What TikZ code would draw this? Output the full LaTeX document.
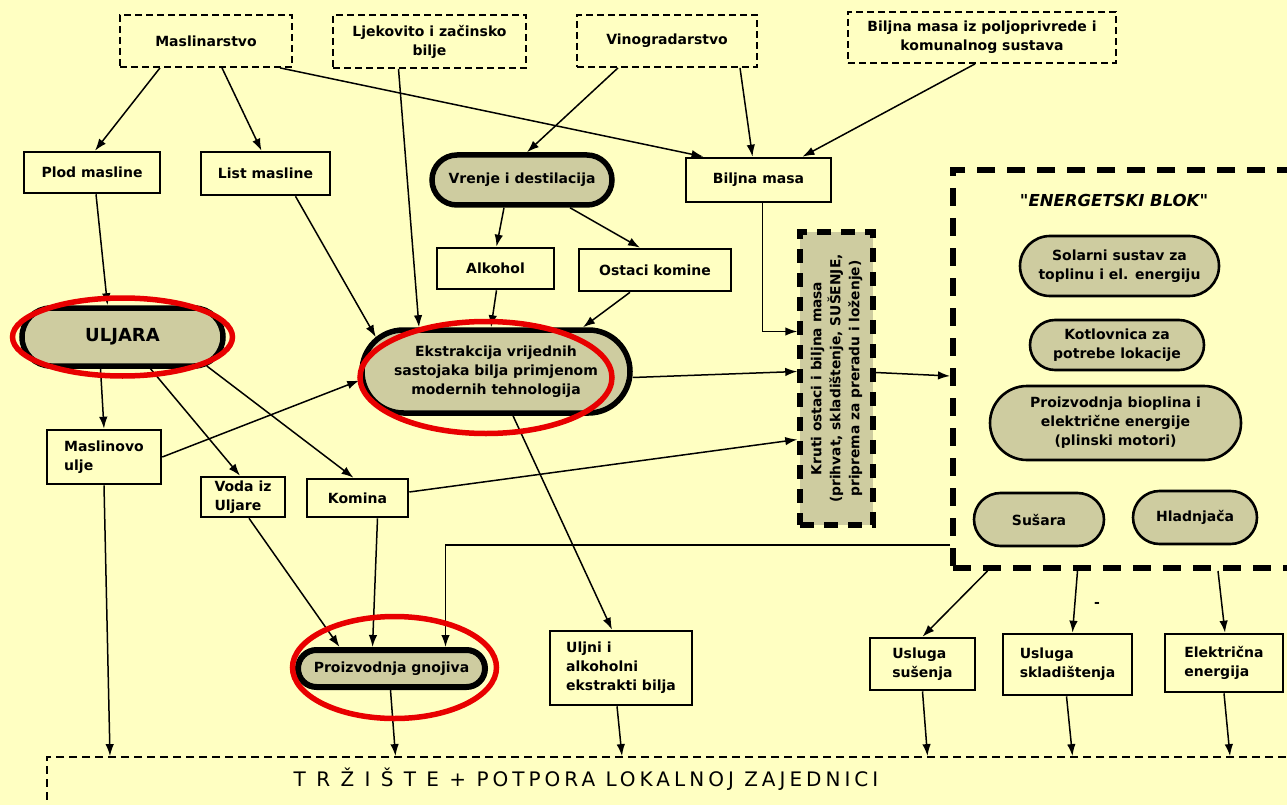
\documentclass[tikz,border=0pt]{standalone}
\usepackage{fontspec}
\setmainfont{DejaVu Sans}
\newfontfamily\marketfont[LetterSpace=20]{DejaVu Sans}
\usepackage{graphicx}
\usetikzlibrary{shapes.misc, arrows.meta, calc}

\definecolor{paper}{RGB}{255,255,194}
\definecolor{khaki}{RGB}{206,204,160}
\definecolor{ringred}{RGB}{232,0,0}

\begin{document}
\begin{tikzpicture}[x=1pt, y=-1pt,
        every node/.style={font=\fontsize{14}{19}\selectfont\bfseries, inner sep=2pt},
        source/.style={draw, line width=1.8pt, dash pattern=on 7pt off 4pt, align=center},
        item/.style={draw, line width=2.6pt, align=center},
        itemleft/.style={item, align=left},
        process/.style={rounded rectangle, draw, line width=5.5pt, fill=khaki, align=center},
        unit/.style={rounded rectangle, draw, line width=2.6pt, fill=khaki, align=center},
        flow/.style={line width=1.5pt, -{Latex[length=12pt, width=8.5pt]}},
        ring/.style={draw=ringred, line width=5.5pt},
        ]

    \useasboundingbox (0, 0) rectangle (1287, 805);
    \fill [paper] (0, 0) rectangle (1287, 805);

    % energetski blok and market frame
    \node (energ) at (1126.5, 369) [draw, line width=6pt, dash pattern=on 18pt off 12pt, minimum width=347pt, minimum height=398pt] {};
    \node (title) at (1114, 200) [font=\fontsize{16.5}{19}\selectfont\bfseries\itshape] {\textquotedbl ENERGETSKI BLOK\textquotedbl};
    \node (trziste) at (673.5, 793) [draw, line width=1.8pt, dash pattern=on 8pt off 5pt, minimum width=1253pt, minimum height=72pt] {};
    \node (market) at (586, 779) [font=\marketfont\fontsize{20}{22}\selectfont] {T R Ž I Š T E + POTPORA LOKALNOJ ZAJEDNICI};

    % sources
    \node (masl) at (206, 41) [source, minimum width=172pt, minimum height=52pt] {Maslinarstvo};
    \node (ljek) at (429.5, 41.5) [source, minimum width=193pt, minimum height=53pt] {Ljekovito i začinsko\\bilje};
    \node (vino) at (667, 41) [source, minimum width=180pt, minimum height=52pt] {Vinogradarstvo};
    \node (bpk) at (982, 37.5) [source, minimum width=268pt, minimum height=51pt] {Biljna masa iz poljoprivrede i\\komunalnog sustava};

    \node (plod) at (92, 172.5) [item, minimum width=136pt, minimum height=41pt] {Plod masline};
    \node (listm) at (265.5, 173.5) [item, minimum width=129pt, minimum height=43pt] {List masline};
    \node (vrenje) at (522, 180) [process, minimum width=184pt, minimum height=50pt] {Vrenje i destilacija};
    \node (biljna) at (758.5, 180) [item, minimum width=145pt, minimum height=44pt] {Biljna masa};

    \node (alkohol) at (495.5, 268.5) [item, minimum width=117pt, minimum height=41pt] {Alkohol};
    \node (ostaci) at (655, 270) [item, minimum width=152pt, minimum height=42pt] {Ostaci komine};

    \node (uljara) at (122.5, 337) [process, minimum width=205pt, minimum height=58pt, font=\fontsize{18}{19}\selectfont\bfseries] {ULJARA};
    \node (ekstr) at (496, 371.5) [process, minimum width=272pt, minimum height=83pt] {Ekstrakcija vrijednih\\sastojaka bilja primjenom\\modernih tehnologija};
    \node (kruti) at (836.5, 378.5) [draw, line width=5.5pt, dash pattern=on 14pt off 10pt, fill=khaki, minimum width=73pt, minimum height=293pt, inner sep=0pt, font=\fontsize{13.8}{19}\selectfont\bfseries] {\rotatebox{90}{\begin{tabular}{@{}c@{}}Kruti ostaci i biljna masa\\(prihvat, skladištenje, SUŠENJE,\\priprema za preradu i loženje)\end{tabular}}};

    % inside the energetski blok
    \node (solar) at (1119.5, 266) [unit, minimum width=203pt, minimum height=60pt] {Solarni sustav za\\toplinu i el. energiju};
    \node (kotl) at (1117, 345) [unit, minimum width=178pt, minimum height=50pt] {Kotlovnica za\\potrebe lokacije};
    \node (bioplin) at (1115.5, 423) [unit, minimum width=255pt, minimum height=74pt] {Proizvodnja bioplina i\\električne energije\\(plinski motori)};
    \node (susara) at (1039, 519.5) [unit, minimum width=134pt, minimum height=53pt] {Sušara};
    \node (hladn) at (1195, 517.5) [unit, minimum width=128pt, minimum height=53pt] {Hladnjača};

    \node (maslinovo) at (104, 457) [itemleft, minimum width=114pt, minimum height=54pt] {Maslinovo\\ulje};
    \node (voda) at (243, 497) [itemleft, minimum width=84pt, minimum height=40pt] {Voda iz\\Uljare};
    \node (komina) at (357.5, 498) [item, minimum width=101pt, minimum height=38pt] {Komina};

    \node (gnojiva) at (391.5, 668.5) [process, line width=6pt, minimum width=191pt, minimum height=37pt] {Proizvodnja gnojiva};
    \node (uljni) at (621, 668) [itemleft, minimum width=142pt, minimum height=74pt] {Uljni i\\alkoholni\\ekstrakti bilja};
    \node (usus) at (922.5, 664) [itemleft, minimum width=105pt, minimum height=52pt] {Usluga\\sušenja};
    \node (uskl) at (1067.5, 664.5) [itemleft, minimum width=129pt, minimum height=61pt] {Usluga\\skladištenja};
    \node (elen) at (1224, 663) [itemleft, minimum width=118pt, minimum height=58pt] {Električna\\energija};
    \node (tick) at (1097, 605) {-};

    % flows
    \draw [flow] ([xshift=-46pt]masl.south) -- ([xshift=3pt]plod.north);
    \draw [flow] ([xshift=16pt]masl.south) -- ([xshift=-4pt]listm.north);
    \draw [flow] ([xshift=74pt]masl.south) -- ([xshift=-55pt]biljna.north);
    \draw [flow] ([xshift=-31pt]ljek.south) -- ([xshift=-77pt]ekstr.north);
    \draw [flow] ([xshift=-49pt]vino.south) -- ([xshift=5pt]vrenje.north);
    \draw [flow] ([xshift=73pt]vino.south) -- ([xshift=-6pt]biljna.north);
    \draw [flow] ([xshift=-7pt]bpk.south) -- ([xshift=44pt]biljna.north);

    \draw [flow] ([xshift=4pt]plod.south) -- ([xshift=-15pt]uljara.north);
    \draw [flow] ([xshift=30pt]listm.south) -- (ekstr.164);
    \draw [flow] ([xshift=-18pt]vrenje.south) -- ([xshift=1pt]alkohol.north);
    \draw [flow] ([xshift=48pt]vrenje.south) -- ([xshift=-15pt]ostaci.north);
    \draw [flow] ([xshift=1pt]alkohol.south) -- ([xshift=-5pt]ekstr.north);
    \draw [flow] ([xshift=-25pt]ostaci.south) -- ([xshift=87pt]ekstr.north);
    \draw [flow] ([xshift=4pt]biljna.south) |- ([yshift=47pt]kruti.west);
    \draw [flow] ([yshift=-6pt]ekstr.east) -- ([yshift=7pt]kruti.west);

    \draw [flow] ([xshift=-22pt]uljara.south) -- (maslinovo.north);
    \draw [flow] ([xshift=28pt]uljara.south) -- ([xshift=-3pt]voda.north);
    \draw [flow] (uljara.-19) -- ([xshift=-4pt]komina.north);
    \draw [flow] (maslinovo.east) -- ([yshift=-9pt]ekstr.west);
    \draw [flow] ([yshift=6pt]komina.east) -- ([yshift=-61pt]kruti.west);
    \draw [flow] ([yshift=6pt]kruti.east) -- ([yshift=-7pt]energ.west);

    \draw [flow] ([xshift=17pt]ekstr.south) -- ([xshift=-9pt]uljni.north);
    \draw [flow] ([xshift=6pt]voda.south) -- ([xshift=-52pt]gnojiva.north);
    \draw [flow] ([xshift=20pt]komina.south) -- ([xshift=-19pt]gnojiva.north);
    \draw [flow] ([yshift=-176pt]energ.west) -| ([xshift=54pt]gnojiva.north);

    \draw [flow] ([xshift=65pt]usus.north |- energ.south) -- (usus.north);
    \draw [flow] ([xshift=10pt]uskl.north |- energ.south) -- ([xshift=5pt]uskl.north);
    \draw [flow] ([xshift=-6pt]elen.north |- energ.south) -- ([xshift=1pt]elen.north);

    \draw [flow] (maslinovo.south) -- ([xshift=6pt]maslinovo.south |- trziste.north);
    \draw [flow] ([xshift=-1pt]gnojiva.south) -- ([xshift=4pt]gnojiva.south |- trziste.north);
    \draw [flow] ([xshift=-4pt]uljni.south) -- ([xshift=1pt]uljni.south |- trziste.north);
    \draw [flow] (usus.south) -- ([xshift=5pt]usus.south |- trziste.north);
    \draw [flow] ([xshift=-1pt]uskl.south) -- ([xshift=5pt]uskl.south |- trziste.north);
    \draw [flow] (elen.south) -- ([xshift=6pt]elen.south |- trziste.north);

    % red highlights
    \draw [ring] (uljara.center) ellipse [x radius=110pt, y radius=39pt];
    \draw [ring] ([shift={(-10pt,-6pt)}]ekstr.center) ellipse [x radius=126pt, y radius=56pt];
    \draw [ring] ([shift={(3pt,1pt)}]gnojiva.center) ellipse [x radius=102pt, y radius=51pt];
\end{tikzpicture}
\end{document}
